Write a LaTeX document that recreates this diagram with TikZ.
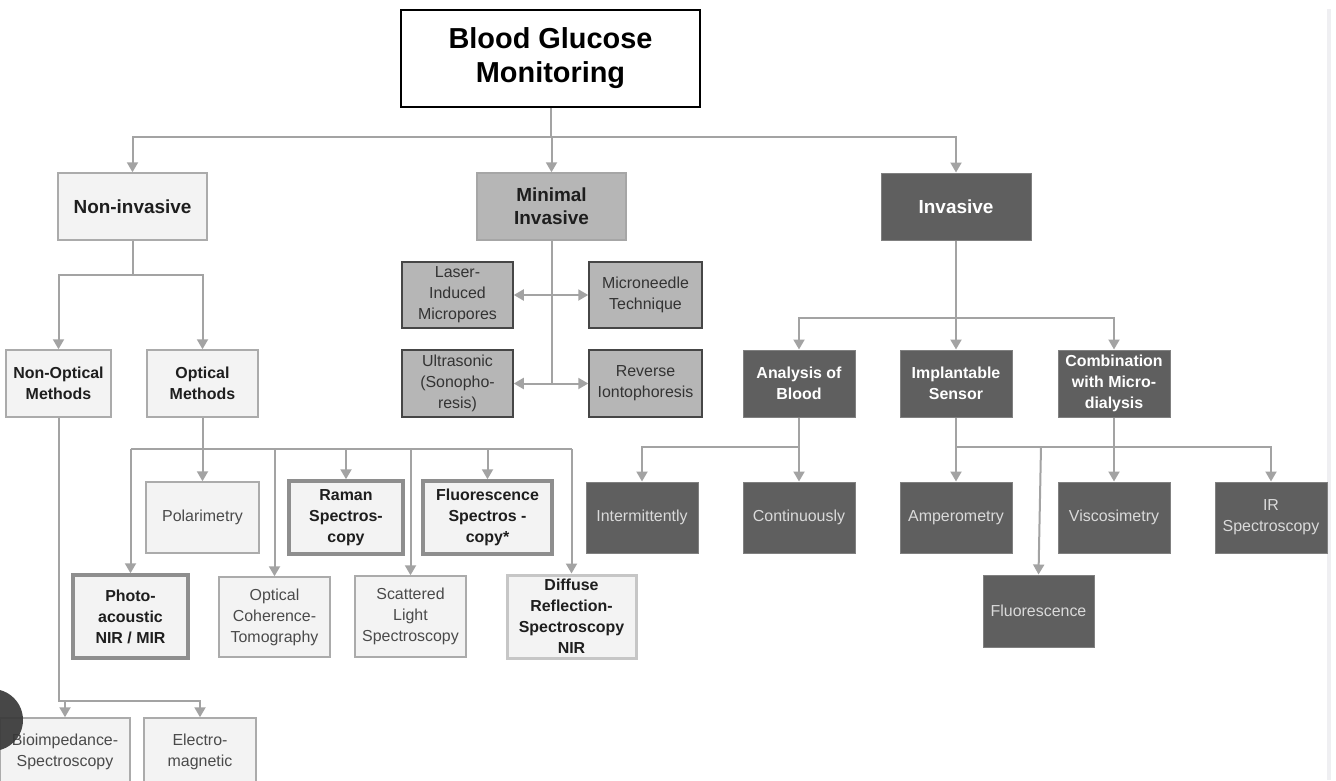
\documentclass[tikz,border=0pt]{standalone}
\usepackage{fontspec}
\setmainfont{Liberation Sans}
\usetikzlibrary{arrows.meta,calc}

\definecolor{connGray}{HTML}{A3A3A3}
\definecolor{liteFill}{HTML}{F3F3F3}
\definecolor{liteLine}{HTML}{ABABAB}
\definecolor{liteText}{HTML}{4A4A4A}
\definecolor{boldText}{HTML}{1E1E1E}
\definecolor{heavyLine}{HTML}{8E8E8E}
\definecolor{diffLine}{HTML}{C6C6C6}
\definecolor{darkFill}{HTML}{5F5F5F}
\definecolor{darkLine}{HTML}{808080}
\definecolor{darkText}{HTML}{DADADA}
\definecolor{midFill}{HTML}{B6B6B6}
\definecolor{midLine}{HTML}{A6A6A6}
\definecolor{midEdge}{HTML}{464646}
\definecolor{midText}{HTML}{333333}
\definecolor{edgeBand}{HTML}{EFEFF2}

\newcommand\fzTitle{\fontsize{29}{34}\selectfont\bfseries}
\newcommand\fzHead{\fontsize{19}{23}\selectfont\bfseries}
\newcommand\fzBold{\fontsize{16}{21}\selectfont\bfseries}
\newcommand\fzBody{\fontsize{16}{21}\selectfont}

\tikzset{
  box/.style={rectangle, align=center, inner sep=0pt},
  sz/.style 2 args={minimum width=#1bp, minimum height=#2bp},
  lite/.style={box, fill=liteFill, draw=liteLine, line width=1.5bp, text=liteText, font=\fzBody},
  liteb/.style={lite, text=boldText, font=\fzBold},
  liteh/.style={lite, text=boldText, font=\fzHead},
  heavy/.style={liteb, draw=heavyLine, line width=3.5bp},
  diffuse/.style={liteb, draw=diffLine, line width=3bp},
  dark/.style={box, fill=darkFill, draw=darkLine, line width=1bp, text=darkText, font=\fzBody},
  darkb/.style={dark, text=white, font=\fzBold},
  darkh/.style={dark, text=white, font=\fzHead},
  midh/.style={box, fill=midFill, draw=midLine, line width=1.5bp, text=boldText, font=\fzHead},
  mids/.style={box, fill=midFill, draw=midEdge, line width=1.5bp, text=midText, font=\fzBody},
  rootbox/.style={box, fill=white, draw=black, line width=2.5bp, font=\fzTitle},
  conn/.style={draw=connGray, line width=2bp},
  arr/.style={conn, -{Triangle[width=11bp,length=10bp]}},
}

\begin{document}
\begin{tikzpicture}[x=1bp, y=-1bp]
  % canvas
  \fill[white] (0,0) rectangle (1336,780);
  \useasboundingbox (0,0) rectangle (1336,780);
  \fill[edgeBand] (1327,9) rectangle (1331,780);

  % top level
  \node[rootbox, sz={299}{97}] (root) at (550.5,58.5) {Blood Glucose\\Monitoring};
  \node[liteh, sz={149}{67}] (noninv) at (132.5,206.5) {Non-invasive};
  \node[midh, sz={149}{67}] (mininv) at (551.5,206.5) {Minimal\\Invasive};
  \node[darkh, sz={150}{67}] (inv) at (956,206.5) {Invasive};

  % non-invasive branch
  \node[liteb, sz={105}{67}] (nonopt) at (58.5,383.5) {Non-Optical\\Methods};
  \node[liteb, sz={111}{67}] (opt) at (202.5,383.5) {Optical\\Methods};

  \node[lite, sz={113}{71}] (polar) at (202.5,517.5) {Polarimetry};
  \node[heavy, sz={114}{73}] (raman) at (346,517.5) {Raman\\Spectros-\\copy};
  \node[heavy, sz={129}{73}] (fluspec) at (487.5,517.5) {Fluorescence\\Spectros -\\copy*};
  \node[heavy, sz={115}{83}] (photo) at (130.5,616.5) {Photo-\\acoustic\\NIR / MIR};
  \node[lite, sz={111}{80}] (oct) at (274.5,617) {Optical\\Coherence-\\Tomography};
  \node[lite, sz={111}{81}] (scatter) at (410.5,616.5) {Scattered\\Light\\Spectroscopy};
  \node[diffuse, sz={129}{83}] (diffrefl) at (571.5,616.5) {Diffuse\\Reflection-\\Spectroscopy\\NIR};

  \node[lite, sz={130}{67}] (bioimp) at (65,751.5) {Bioimpedance-\\Spectroscopy};
  \node[lite, sz={112}{67}] (emag) at (200,751.5) {Electro-\\magnetic};

  % minimal invasive branch
  \node[mids, sz={111}{66}] (laser) at (457.5,295) {Laser-\\Induced\\Micropores};
  \node[mids, sz={113}{66}] (micro) at (645.5,295) {Microneedle\\Technique};
  \node[mids, sz={111}{67}] (ultra) at (457.5,383.5) {Ultrasonic\\(Sonopho-\\resis)};
  \node[mids, sz={113}{67}] (reverse) at (645.5,383.5) {Reverse\\Iontophoresis};

  % invasive branch
  \node[darkb, sz={112}{67}] (analysis) at (799,383.5) {Analysis of\\Blood};
  \node[darkb, sz={112}{67}] (implant) at (956,383.5) {Implantable\\Sensor};
  \node[darkb, sz={112}{67}] (combi) at (1114,383.5) {Combination\\with Micro-\\dialysis};

  \node[dark, sz={112}{71}] (inter) at (642,517.5) {Intermittently};
  \node[dark, sz={112}{71}] (cont) at (799,517.5) {Continuously};
  \node[dark, sz={112}{71}] (amper) at (956,517.5) {Amperometry};
  \node[dark, sz={112}{71}] (visco) at (1114,517.5) {Viscosimetry};
  \node[dark, sz={112}{71}] (irspec) at (1271,517.5) {IR\\Spectroscopy};
  \node[dark, sz={111}{72}] (fluor) at (1038.5,611) {Fluorescence};

  % junction points of the connector buses
  \coordinate (busA) at (550.5,137);
  \coordinate (busB) at (132.5,275);
  \coordinate (busC) at (58.5,701);
  \coordinate (busD) at (202.5,449);
  \coordinate (m1) at (551.5,295);
  \coordinate (m2) at (551.5,383.5);
  \coordinate (busE) at (956,318);
  \coordinate (busF) at (799,446.5);
  \coordinate (busG) at (956,446.5);
  \coordinate (tapFl) at (1041,446.5);

  % root to the three families
  \draw[conn] (root.south) -- (busA);
  \draw[arr] (busA) -| (noninv.north);
  \draw[arr] (busA) -| (inv.north);
  \draw[arr] (busA) -- (busA -| mininv.north) -- (mininv.north);

  % non-invasive
  \draw[conn] (noninv.south) -- (busB);
  \draw[arr] (busB) -| (nonopt.north);
  \draw[arr] (busB) -| (opt.north);

  \draw[arr] (nonopt.south) -- (busC) -- (busC -| emag.north) -- (emag.north);
  \draw[arr] (busC -| bioimp.north) -- (bioimp.north);

  \draw[arr] (opt.south) -- (polar.north);
  \draw[conn] (busD -| photo.north) -- (busD -| diffrefl.north);
  \draw[arr] (busD -| photo.north) -- (photo.north);
  \draw[arr] (busD -| oct.north) -- (oct.north);
  \draw[arr] (busD -| raman.north) -- (raman.north);
  \draw[arr] (busD -| scatter.north) -- (scatter.north);
  \draw[arr] (busD -| fluspec.north) -- (fluspec.north);
  \draw[arr] (busD -| diffrefl.north) -- (diffrefl.north);

  % minimal invasive
  \draw[conn] (mininv.south) -- (m2);
  \draw[arr] (m1) -- (laser.east);
  \draw[arr] (m1) -- (micro.west);
  \draw[arr] (m2) -- (ultra.east);
  \draw[arr] (m2) -- (reverse.west);

  % invasive
  \draw[conn] (inv.south) -- (busE);
  \draw[arr] (busE) -| (analysis.north);
  \draw[arr] (busE) -| (combi.north);
  \draw[arr] (busE) -- (implant.north);

  \draw[arr] (analysis.south) -- (cont.north);
  \draw[arr] (busF) -| (inter.north);

  \draw[arr] (implant.south) -- (amper.north);
  \draw[arr] (busG) -| (irspec.north);
  \draw[arr] (combi.south) -- (visco.north);
  \draw[arr] (tapFl) -- (fluor.north);

  % round dark marker over the lower left corner
  \fill[black!78, opacity=0.92] (-8,720) circle (31);
\end{tikzpicture}
\end{document}
